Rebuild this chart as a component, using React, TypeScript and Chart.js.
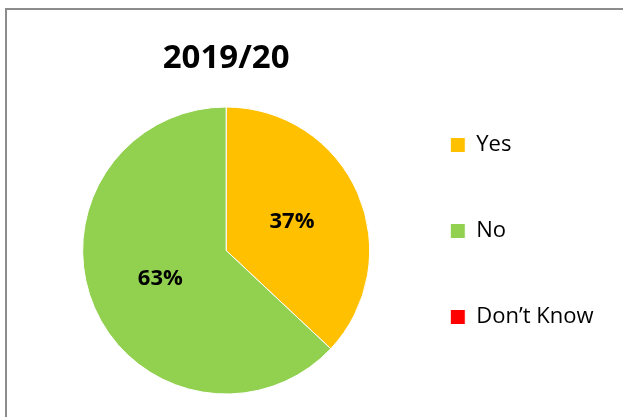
import React, { useEffect, useRef } from "react";
import { Chart, registerables } from "chart.js";

Chart.register(...registerables);

const TITLE = "2019/20";
const categories = ["Yes", "No", "Don’t Know"];
const values = [37, 63, 0];
const colors = ["#FFC000", "#92D050", "#FF0000"];

const FONT = "'Open Sans', 'Noto Sans', sans-serif";

const pctLabels = {
  id: "pctLabels",
  afterDatasetsDraw(chart: any) {
    const { ctx } = chart;
    const meta = chart.getDatasetMeta(0);
    const data = chart.data.datasets[0].data as number[];
    const total = data.reduce((a, b) => a + b, 0);
    ctx.save();
    ctx.font = `bold 22px ${FONT}`;
    ctx.fillStyle = "#000";
    ctx.textAlign = "center";
    ctx.textBaseline = "middle";
    meta.data.forEach((arc: any, i: number) => {
      const v = data[i];
      if (!v) return;
      const p = arc.tooltipPosition(false);
      ctx.fillText(`${Math.round((v / total) * 100)}%`, p.x, p.y);
    });
    ctx.restore();
  },
};

export default function App() {
  const ref = useRef<HTMLCanvasElement>(null);

  useEffect(() => {
    const chart = new Chart(ref.current as HTMLCanvasElement, {
      type: "pie",
      data: {
        labels: categories,
        datasets: [
          {
            data: values,
            backgroundColor: colors,
            borderColor: "#ffffff",
            borderWidth: 1,
          },
        ],
      },
      options: {
        responsive: false,
        animation: false,
        radius: 143.5,
        layout: { padding: { left: 66, right: 19.5, top: 0, bottom: 9 } },
        plugins: {
          title: {
            display: true,
            text: TITLE,
            fullSize: false,
            color: "#000",
            font: { family: FONT, size: 33, weight: "bold", lineHeight: 0.75 },
            padding: { top: 46.5, bottom: -1.25 },
          },
          legend: {
            display: true,
            position: "right",
            align: "start",
            fullSize: false,
            labels: {
              boxWidth: 15,
              boxHeight: 15,
              padding: 64,
              color: "#000",
              font: { family: FONT, size: 22 },
            },
          },
          tooltip: { enabled: false },
        },
      } as any,
      plugins: [pctLabels],
    });
    return () => chart.destroy();
  }, []);

  return (
    <div
      style={{
        position: "fixed",
        left: 0,
        top: 0,
        width: 623,
        height: 417,
        overflow: "hidden",
        background: "#fff",
      }}
    >
      <div
        style={{
          position: "absolute",
          left: 5,
          top: 8,
          width: 800,
          height: 600,
          borderLeft: "2px solid #8c8c8c",
          borderTop: "2px solid #8c8c8c",
        }}
      />
      <canvas
        ref={ref}
        width={623}
        height={440}
        style={{ position: "absolute", left: 0, top: 0, width: 623, height: 440 }}
      />
    </div>
  );
}
